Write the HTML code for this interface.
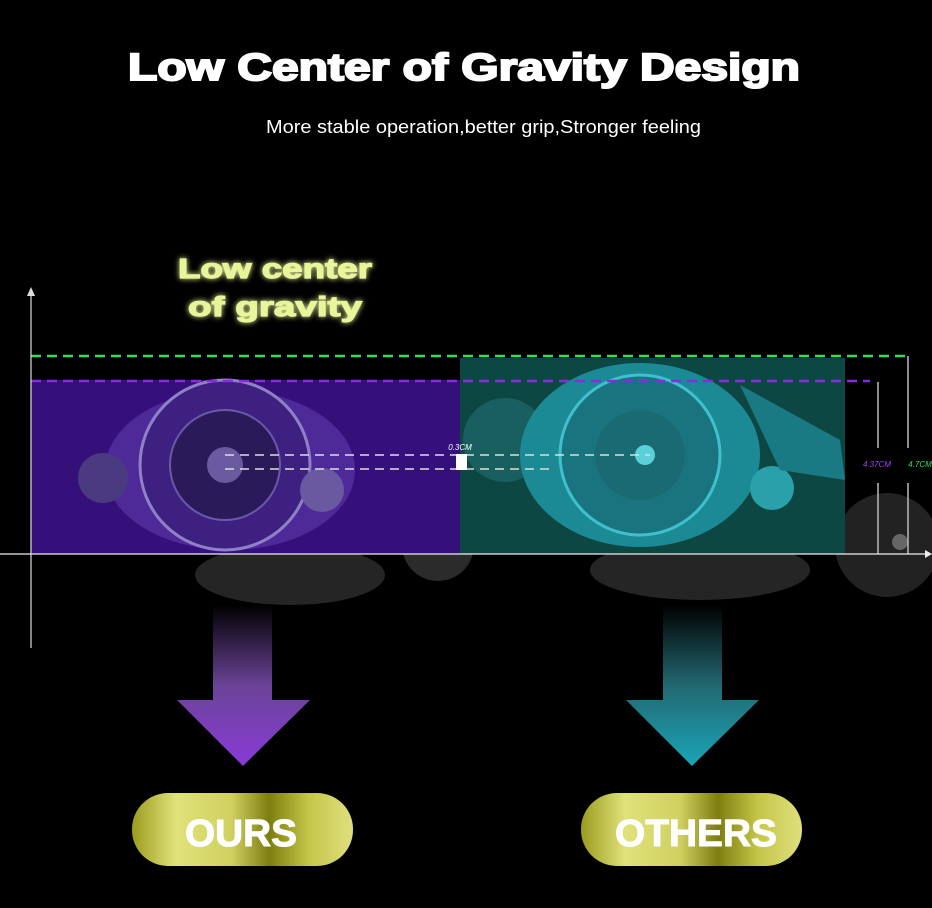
<!DOCTYPE html>
<html><head><meta charset="utf-8"><style>
html,body{margin:0;padding:0;background:#000;width:932px;height:908px;overflow:hidden}
svg{display:block}
</style></head><body>
<svg width="932" height="908" viewBox="0 0 932 908" xmlns="http://www.w3.org/2000/svg" font-family="Liberation Sans, sans-serif">
<defs>
<linearGradient id="pa" x1="0" y1="0" x2="0" y2="1"><stop offset="0" stop-color="#000"/><stop offset="0.5" stop-color="#6a4498"/><stop offset="1" stop-color="#8a3ad8"/></linearGradient>
<linearGradient id="ta" x1="0" y1="0" x2="0" y2="1"><stop offset="0" stop-color="#000"/><stop offset="0.5" stop-color="#226870"/><stop offset="1" stop-color="#1aa6b8"/></linearGradient>
<linearGradient id="pill" x1="0" y1="0" x2="1" y2="0"><stop offset="0" stop-color="#9a9c1e"/><stop offset="0.2" stop-color="#e0e27a"/><stop offset="0.45" stop-color="#cfd060"/><stop offset="0.62" stop-color="#7e7e10"/><stop offset="0.8" stop-color="#c4c648"/><stop offset="1" stop-color="#dfe07e"/></linearGradient>
<filter id="glow"><feGaussianBlur stdDeviation="3" result="b"/><feMerge><feMergeNode in="b"/><feMergeNode in="SourceGraphic"/></feMerge></filter>
</defs>
<text x="128" y="80" fill="#fff" stroke="#fff" stroke-width="2" font-size="38" font-weight="bold" textLength="672" lengthAdjust="spacingAndGlyphs">Low Center of Gravity Design</text>
<text x="266" y="133" fill="#fff" font-size="18" textLength="435" lengthAdjust="spacingAndGlyphs">More stable operation,better grip,Stronger feeling</text>
<g filter="url(#glow)" fill="#e8f59a" stroke="#e8f59a" stroke-width="1.2" font-size="28" font-weight="bold">
<text x="178" y="278" textLength="194" lengthAdjust="spacingAndGlyphs">Low center</text><text x="188" y="316" textLength="174" lengthAdjust="spacingAndGlyphs">of gravity</text></g>
<circle cx="103" cy="478" r="38" fill="#2a2a2a"/>
<circle cx="438" cy="545" r="36" fill="#2b2b2b"/>
<ellipse cx="290" cy="575" rx="95" ry="30" fill="#252525"/>
<ellipse cx="700" cy="570" rx="110" ry="30" fill="#252525"/>
<circle cx="887" cy="545" r="52" fill="#222"/>
<circle cx="900" cy="542" r="8" fill="#666"/>
<rect x="31" y="380" width="429" height="174" fill="#36107a"/>
<ellipse cx="230" cy="470" rx="125" ry="80" fill="#5530a0" opacity="0.8"/>
<circle cx="225" cy="465" r="85" fill="#3e2080" stroke="#9080c8" stroke-width="3"/>
<circle cx="225" cy="465" r="55" fill="#2a1a5a" stroke="#6a58a8" stroke-width="2"/>
<circle cx="225" cy="465" r="18" fill="#6a5aa0"/>
<circle cx="103" cy="478" r="25" fill="#4a3a80"/>
<circle cx="322" cy="490" r="22" fill="#6a58a0"/>
<rect x="460" y="358" width="385" height="196" fill="#0d4744"/>
<circle cx="505" cy="440" r="42" fill="#1a5f60"/>
<ellipse cx="640" cy="455" rx="120" ry="92" fill="#1b8a94"/>
<circle cx="640" cy="455" r="80" fill="#1a7480" stroke="#40c0cc" stroke-width="3"/>
<circle cx="640" cy="455" r="45" fill="#1a6a74"/>
<circle cx="645" cy="455" r="10" fill="#5ad0d8"/>
<circle cx="772" cy="488" r="22" fill="#2aa0aa"/>
<path d="M740 385 L840 440 L845 480 L780 470 Z" fill="#1a7a84"/>
<line x1="31" y1="356" x2="908" y2="356" stroke="#2ee05a" stroke-width="2.5" stroke-dasharray="10 6"/>
<line x1="31" y1="381" x2="870" y2="381" stroke="#8a28e8" stroke-width="2.5" stroke-dasharray="10 6"/>
<line x1="908" y1="356" x2="908" y2="448" stroke="#bbb" stroke-width="1.5"/>
<line x1="908" y1="483" x2="908" y2="554" stroke="#bbb" stroke-width="1.5"/>
<line x1="878" y1="382" x2="878" y2="448" stroke="#bbb" stroke-width="1.5"/>
<line x1="878" y1="483" x2="878" y2="554" stroke="#bbb" stroke-width="1.5"/>
<text x="877" y="467" text-anchor="middle" fill="#a040f0" font-size="8" font-style="italic">4.37CM</text>
<text x="920" y="467" text-anchor="middle" fill="#30e060" font-size="8" font-style="italic">4.7CM</text>
<line x1="225" y1="455" x2="650" y2="455" stroke="#ddd" stroke-width="1.5" stroke-dasharray="9 6"/>
<line x1="225" y1="469" x2="550" y2="469" stroke="#ddd" stroke-width="1.5" stroke-dasharray="9 6"/>
<rect x="456" y="454" width="11" height="16" fill="#fff"/>
<text x="460" y="450" text-anchor="middle" fill="#fff" font-size="8" font-style="italic">0.3CM</text>
<line x1="31" y1="292" x2="31" y2="648" stroke="#ddd" stroke-width="1.2"/>
<path d="M27 296 L31 287 L35 296 Z" fill="#ddd"/>
<line x1="0" y1="554" x2="928" y2="554" stroke="#eee" stroke-width="1.2"/>
<path d="M925 550 L932 554 L925 558 Z" fill="#eee"/>
<path d="M213 605 H272 V700 H310 L243 766 L177 700 H213 Z" fill="url(#pa)"/>
<path d="M663 605 H722 V700 H759 L692 766 L626 700 H663 Z" fill="url(#ta)"/>
<rect x="132" y="793" width="221" height="73" rx="36" fill="url(#pill)"/>
<rect x="581" y="793" width="221" height="73" rx="36" fill="url(#pill)"/>
<text x="185" y="846" fill="#fff" stroke="#fff" stroke-width="1" font-size="38" font-weight="bold" textLength="112" lengthAdjust="spacingAndGlyphs">OURS</text>
<text x="615" y="846" fill="#fff" stroke="#fff" stroke-width="1" font-size="38" font-weight="bold" textLength="162" lengthAdjust="spacingAndGlyphs">OTHERS</text>
</svg>
</body></html>
